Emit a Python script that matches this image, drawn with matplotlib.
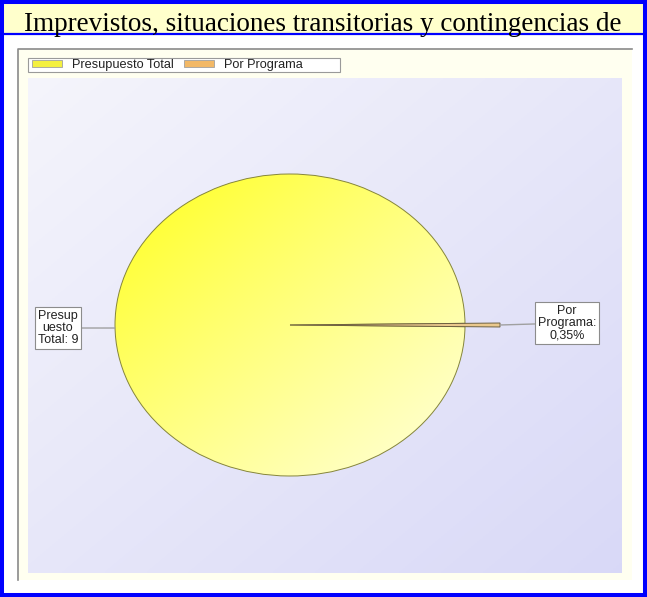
import numpy as np
import matplotlib
matplotlib.use('Agg')
import matplotlib.pyplot as plt
from matplotlib.patches import Rectangle, Patch

TITLE = 'Imprevistos, situaciones transitorias y contingencias de'
categories = ['Presupuesto Total', 'Por Programa']
shares = [99.65, 0.35]
slice_labels = ['Presup\nuesto\nTotal: 9', 'Por\nPrograma:\n0,35%']

W, H = 647, 597
fig = plt.figure(figsize=(W / 100, H / 100), dpi=100)

# background frame drawn in pixel space
bg = fig.add_axes([0, 0, 1, 1], zorder=-10)
bg.set_xlim(0, W)
bg.set_ylim(H, 0)
bg.axis('off')
bg.add_patch(Rectangle((0, 0), W, H, fc='white', ec='none'))
bg.add_patch(Rectangle((3, 3), W - 7, 30, fc='#FFFFCC', ec='none'))
bg.plot([3, W - 3], [34, 34], color='#0000FF', lw=1.6)
bg.add_patch(Rectangle((2, 2), W - 4, H - 4, fc='none', ec='#0000FF', lw=2.9))
bg.add_patch(Rectangle((18, 49), 614, 531, fc='#FFFFF0', ec='none'))
bg.plot([18, 18, 632], [580, 49, 49], color='#8A8A8A', lw=1.2)
# legend frame
bg.add_patch(Rectangle((28, 58), 312, 14, fc='white', ec='#9A9A9A', lw=0.8))

fig.text(323 / W, 1 - 31 / H, TITLE, ha='center', va='baseline',
         family='Liberation Serif', fontsize=19.5, color='black')

# plot area with the pie
px0, px1, py0, py1 = 28, 622, 78, 573
cx, cy, rx, ry = 290, 325, 175, 151
ax = fig.add_axes([px0 / W, 1 - py1 / H, (px1 - px0) / W, (py1 - py0) / H])

start = shares[1] / sum(shares) * 180
wedges, _ = ax.pie(shares, startangle=start, counterclock=True,
                   colors=['none', '#EAC88C'],
                   wedgeprops=dict(edgecolor='#85853A', linewidth=0.7))
wedges[1].set_radius(1.2)
wedges[1].set_edgecolor('#6E6040')
for w in wedges:
    w.set_zorder(3)

xl = ((px0 - cx) / rx, (px1 - cx) / rx)
yl = (-(py1 - cy) / ry, (cy - py0) / ry)
ax.set_aspect('auto')
ax.axis('off')

# lavender gradient of the plot area
gx, gy = np.meshgrid(np.linspace(0, 1, 200), np.linspace(0, 1, 200))
t = (gx + gy) / 2
c0 = np.array([0.96, 0.96, 0.985])
c1 = np.array([0.85, 0.85, 0.97])
grad = c0 + (c1 - c0) * t[..., None]
ax.imshow(grad, extent=(xl[0], xl[1], yl[0], yl[1]), origin='upper',
          aspect='auto', zorder=0)

# yellow gradient inside the big slice
t = np.clip((gx + gy) / 2, 0, 1) ** 0.85
y0 = np.array([1.0, 1.0, 0.08])
y1 = np.array([1.0, 1.0, 0.86])
ygrad = y0 + (y1 - y0) * t[..., None]
im = ax.imshow(ygrad, extent=(-1, 1, -1, 1), origin='upper',
               aspect='auto', zorder=2)
im.set_clip_path(wedges[0])
ax.set_xlim(*xl)
ax.set_ylim(*yl)

box = dict(boxstyle='square,pad=0.22', fc='white', ec='#8C8C8C', lw=0.8)
line = dict(arrowstyle='-', color='#A0A0A0', lw=1.0, shrinkA=0, shrinkB=0)
ax.annotate(slice_labels[0], xy=(-1, -0.02),
            xytext=((58 - cx) / rx, (cy - 328) / ry),
            ha='center', va='center', fontsize=9, family='Liberation Sans',
            color='#222222', linespacing=1.0, bbox=box, arrowprops=line,
            zorder=5)
ax.annotate(slice_labels[1], xy=(1.2, 0.0),
            xytext=((567 - cx) / rx, (cy - 323) / ry),
            ha='center', va='center', fontsize=9, family='Liberation Sans',
            color='#222222', linespacing=1.0, bbox=box, arrowprops=line,
            zorder=5)

handles = [Patch(fc='#F4F040', ec='#A0A0A0', lw=0.6),
           Patch(fc='#F2B866', ec='#A0A0A0', lw=0.6)]
leg = fig.legend(handles, categories, loc='center left', ncol=2,
                 bbox_to_anchor=(32 / W, 1 - 65 / H),
                 prop=dict(family='Liberation Sans', size=9.2),
                 labelcolor='#222222',
                 frameon=False, borderpad=0, borderaxespad=0,
                 handlelength=2.35, handleheight=0.4,
                 handletextpad=0.8, columnspacing=0.8)

fig.savefig('out.png', dpi=100)
